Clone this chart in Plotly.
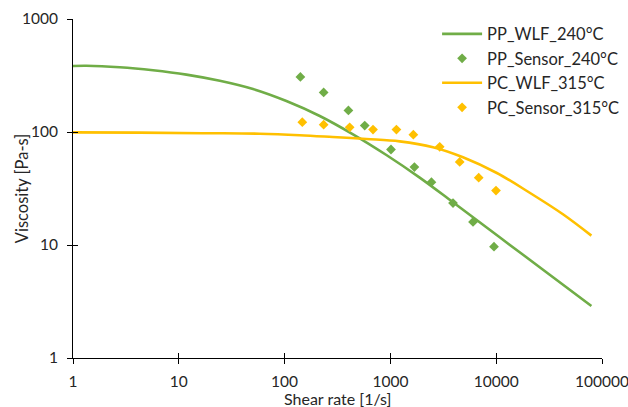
import plotly.graph_objects as go

# PP WLF model curve
pp_wlf_x = [1, 1.339, 2.763, 5.705, 11.8, 24.4, 50.3, 104, 215, 443, 916, 1892, 3906, 10790, 32040, 79400]
pp_wlf_y = [384, 386, 374.6, 352, 322, 284, 240, 188, 138.6, 95.4, 62.6, 39.5, 23.9, 11.7, 5.46, 2.885]

# PP sensor measurements
pp_sensor_x = [141, 234, 401, 572, 1013, 1686, 2443, 3907, 6039, 9530]
pp_sensor_y = [307, 224, 155, 114, 70, 49, 36, 23.5, 16, 9.66]

# PC WLF model curve
pc_wlf_x = [1, 4.27, 16.8, 58.2, 139, 285, 593, 1224, 2527, 4855, 10040, 20730, 42760, 79400]
pc_wlf_y = [99.2, 98.8, 97.6, 96.6, 93.7, 90.3, 86.7, 82.6, 73.4, 59.8, 43.6, 29.0, 18.7, 12.1]

# PC sensor measurements
pc_sensor_x = [147, 234, 412, 685, 1140, 1648, 2924, 4519, 6834, 9954]
pc_sensor_y = [122, 116, 110, 105, 105, 94.7, 74, 54.3, 39.4, 30.3]

x_ticks = [1, 10, 100, 1000, 10000, 100000]
x_tick_labels = ["1", "10", "100", "1000", "10000", "100000"]
y_ticks = [1, 10, 100, 1000]
y_tick_labels = ["1", "10", "100", "1000"]

GREEN = "#70AD47"
GOLD = "#FFC000"
FONT = "Lato"
TXT = "#262626"

fig = go.Figure()
fig.add_trace(go.Scatter(x=pp_wlf_x, y=pp_wlf_y, mode="lines", name="PP_WLF_240°C",
                         line=dict(color=GREEN, width=2.6, shape="spline", smoothing=1.0)))
fig.add_trace(go.Scatter(x=pp_sensor_x, y=pp_sensor_y, mode="markers", name="PP_Sensor_240°C",
                         marker=dict(symbol="diamond", color=GREEN, size=7.5)))
fig.add_trace(go.Scatter(x=pc_wlf_x, y=pc_wlf_y, mode="lines", name="PC_WLF_315°C",
                         line=dict(color=GOLD, width=2.6, shape="spline", smoothing=1.0)))
fig.add_trace(go.Scatter(x=pc_sensor_x, y=pc_sensor_y, mode="markers", name="PC_Sensor_315°C",
                         marker=dict(symbol="diamond", color=GOLD, size=7.5)))

axis_common = dict(type="log", showgrid=False, zeroline=False, automargin=False,
                   linecolor="#000000", linewidth=1, tickcolor="#000000",
                   ticklen=5, tickwidth=1, ticklabeloverflow="allow",
                   tickfont=dict(family=FONT, size=15.5, color=TXT))

fig.update_layout(
    width=628, height=407,
    margin=dict(l=73, r=26, t=19, b=49, autoexpand=False),
    paper_bgcolor="white", plot_bgcolor="white",
    font=dict(family=FONT, color=TXT),
    showlegend=True,
    legend=dict(x=0.696, y=0.959, xref="container", yref="container",
                xanchor="left", yanchor="top",
                bgcolor="rgba(0,0,0,0)", font=dict(family=FONT, size=16.5, color=TXT),
                itemwidth=40, tracegroupgap=0),
    xaxis=dict(**axis_common, range=[0, 5], tickvals=x_ticks, ticktext=x_tick_labels,
               ticks="outside", ticklabelstandoff=4),
    yaxis=dict(**axis_common, range=[0, 3], tickvals=y_ticks, ticktext=y_tick_labels,
               ticks="outside", ticklabelstandoff=6),
    xaxis2=dict(type="log", range=[0, 5], overlaying="x", side="bottom", anchor="y",
                automargin=False,
                showgrid=False, zeroline=False, showline=False, showticklabels=False,
                tickvals=x_ticks, ticks="inside", ticklen=5, tickcolor="#000000", tickwidth=1),
    yaxis2=dict(type="log", range=[0, 3], overlaying="y", side="left", anchor="x",
                automargin=False,
                showgrid=False, zeroline=False, showline=False, showticklabels=False,
                tickvals=y_ticks, ticks="inside", ticklen=5, tickcolor="#000000", tickwidth=1),
    annotations=[
        dict(text="Shear rate [1/s]", xref="paper", yref="paper", x=0.5, y=-0.118,
             xanchor="center", yanchor="middle", showarrow=False,
             font=dict(family=FONT, size=16, color=TXT)),
        dict(text="Viscosity [Pa-s]", xref="paper", yref="paper", x=-0.097, y=0.5,
             xanchor="center", yanchor="middle", showarrow=False, textangle=-90,
             font=dict(family=FONT, size=16.5, color=TXT)),
    ],
)

# invisible trace to activate the overlay axes
fig.add_trace(go.Scatter(x=[1], y=[1], xaxis="x2", yaxis="y2", mode="markers",
                         marker=dict(opacity=0), showlegend=False, hoverinfo="skip"))

fig.write_html("out.html", config={"displayModeBar": False},
               post_script="document.body.style.margin='0';document.body.style.overflow='hidden';")
